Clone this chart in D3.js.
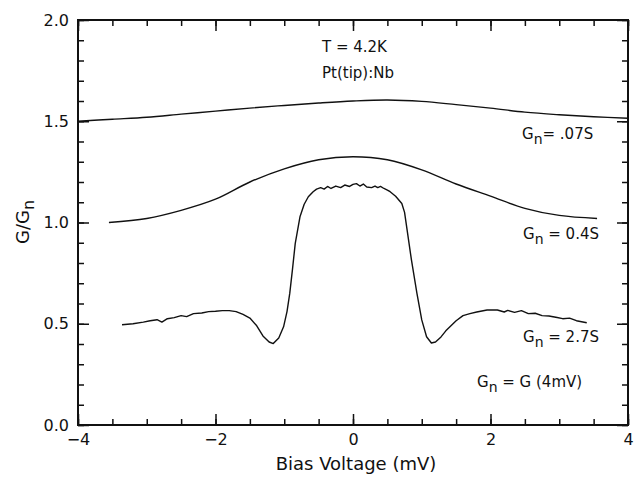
<!DOCTYPE html>
<html>
<head>
<meta charset="utf-8">
<script src="https://cdn.jsdelivr.net/npm/d3@7"></script>
<style>
  body { margin: 0; background: #fff; overflow: hidden; }
  svg { display: block; }
  text { font-family: "DejaVu Sans", sans-serif; fill: #111; }
</style>
</head>
<body>
<div id="chart"></div>
<script>
// curve G_n = .07S
const curveTop = [
  [-4.0, 1.50], [-3.5, 1.51], [-3.0, 1.52], [-2.5, 1.535], [-2.0, 1.55], [-1.5, 1.565],
  [-1.0, 1.578], [-0.5, 1.59], [0.0, 1.60], [0.5, 1.605], [1.0, 1.598], [1.5, 1.582],
  [2.0, 1.565], [2.5, 1.545], [3.0, 1.532], [3.5, 1.522], [4.0, 1.515]
];
// curve G_n = 0.4S
const curveMid = [
  [-3.55, 1.00], [-3.0, 1.02], [-2.5, 1.06], [-2.0, 1.115], [-1.5, 1.20], [-1.0, 1.265],
  [-0.5, 1.31], [0.0, 1.325], [0.5, 1.31], [1.0, 1.26], [1.5, 1.19], [2.0, 1.13],
  [2.5, 1.07], [3.0, 1.035], [3.55, 1.02]
];
// curve G_n = 2.7S
const curveLow = [
  [-3.36, 0.495], [-3.2, 0.50], [-3.05, 0.508], [-2.95, 0.515], [-2.85, 0.52], [-2.78, 0.508],
  [-2.7, 0.525], [-2.6, 0.53], [-2.5, 0.54], [-2.42, 0.535], [-2.32, 0.55], [-2.2, 0.553],
  [-2.1, 0.56], [-2.0, 0.562], [-1.9, 0.565], [-1.8, 0.565], [-1.7, 0.56], [-1.6, 0.546],
  [-1.5, 0.528], [-1.4, 0.49], [-1.31, 0.44], [-1.22, 0.41], [-1.16, 0.402], [-1.08, 0.43],
  [-1.01, 0.485], [-0.96, 0.56], [-0.92, 0.65], [-0.88, 0.77], [-0.84, 0.897], [-0.77, 1.03],
  [-0.71, 1.09], [-0.65, 1.127], [-0.58, 1.152], [-0.53, 1.165], [-0.47, 1.172], [-0.42, 1.165],
  [-0.37, 1.178], [-0.32, 1.168], [-0.25, 1.18], [-0.18, 1.172], [-0.12, 1.185], [-0.05, 1.178],
  [0.0, 1.188], [0.05, 1.192], [0.1, 1.18], [0.15, 1.19], [0.2, 1.175], [0.27, 1.172],
  [0.32, 1.18], [0.36, 1.172], [0.4, 1.178], [0.45, 1.168], [0.5, 1.16], [0.54, 1.152],
  [0.62, 1.13], [0.71, 1.094], [0.75, 1.05], [0.78, 0.98], [0.85, 0.815], [0.93, 0.65],
  [1.0, 0.519], [1.07, 0.436], [1.14, 0.405], [1.2, 0.41], [1.28, 0.435], [1.35, 0.465],
  [1.41, 0.485], [1.5, 0.515], [1.6, 0.54], [1.7, 0.55], [1.8, 0.558], [1.95, 0.568],
  [2.1, 0.568], [2.2, 0.558], [2.25, 0.566], [2.35, 0.556], [2.45, 0.565], [2.55, 0.55],
  [2.65, 0.552], [2.75, 0.54], [2.85, 0.538], [2.95, 0.532], [3.05, 0.525], [3.15, 0.528],
  [3.25, 0.515], [3.4, 0.505]
];

const xMajor = [-4, -2, 0, 2, 4];
const xMinor = d3.range(-4, 4.01, 0.5);
const yMajor = [0, 0.5, 1.0, 1.5, 2.0];
const yMinor = d3.range(0, 2.001, 0.1);

const width = 637, height = 477;
const margin = { top: 20, right: 9, bottom: 52, left: 78 };
const innerWidth = width - margin.left - margin.right;
const innerHeight = height - margin.top - margin.bottom;

const xScale = d3.scaleLinear().domain([-4, 4]).range([0, innerWidth]);
const yScale = d3.scaleLinear().domain([0, 2]).range([innerHeight, 0]);

const svg = d3.select('#chart').append('svg')
  .attr('width', width).attr('height', height);

const mainG = svg.append('g')
  .attr('transform', `translate(${margin.left}, ${margin.top})`);

// ticks on all four sides, pointing inward
const major = 11, minor = 6;
const addAxis = (axis, transform, labels) => {
  const g = mainG.append('g').attr('transform', transform).call(axis);
  g.select('.domain').remove();
  g.selectAll('.tick line').attr('stroke', '#111').attr('stroke-width', 1.5);
  if (!labels) g.selectAll('.tick text').remove();
  return g;
};
addAxis(d3.axisBottom(xScale).tickValues(xMinor).tickSize(-minor), `translate(0, ${innerHeight})`);
addAxis(d3.axisTop(xScale).tickValues(xMinor).tickSize(-minor), 'translate(0, 0)');
addAxis(d3.axisLeft(yScale).tickValues(yMinor).tickSize(-minor), 'translate(0, 0)');
addAxis(d3.axisRight(yScale).tickValues(yMinor).tickSize(-minor), `translate(${innerWidth}, 0)`);
addAxis(d3.axisTop(xScale).tickValues(xMajor).tickSize(-major), 'translate(0, 0)');
addAxis(d3.axisRight(yScale).tickValues(yMajor).tickSize(-major), `translate(${innerWidth}, 0)`);

const xAxisG = addAxis(d3.axisBottom(xScale).tickValues(xMajor).tickSize(-major).tickPadding(9)
  .tickFormat(d3.format('d')), `translate(0, ${innerHeight})`, true);
xAxisG.selectAll('.tick text').style('font-size', '16px').attr('fill', '#111');

const yAxisG = addAxis(d3.axisLeft(yScale).tickValues(yMajor).tickSize(-major).tickPadding(9)
  .tickFormat(d3.format('.1f')), 'translate(0, 0)', true);
yAxisG.selectAll('.tick text').style('font-size', '16px').attr('fill', '#111');

// frame
mainG.append('rect')
  .attr('width', innerWidth).attr('height', innerHeight)
  .attr('fill', 'none').attr('stroke', '#111').attr('stroke-width', 2);

// curves
const lineGen = d3.line()
  .x(d => xScale(d[0]))
  .y(d => yScale(d[1]));

[curveTop, curveMid].forEach(c => {
  mainG.append('path')
    .attr('d', lineGen.curve(d3.curveCatmullRom)(c))
    .attr('fill', 'none').attr('stroke', '#111').attr('stroke-width', 1.4);
});
mainG.append('path')
  .attr('d', lineGen.curve(d3.curveLinear)(curveLow))
  .attr('fill', 'none').attr('stroke', '#111').attr('stroke-width', 1.4)
  .attr('stroke-linejoin', 'round');

// annotations
svg.append('text').text('T = 4.2K')
  .attr('x', 322).attr('y', 52).style('font-size', '15px');
svg.append('text').text('Pt(tip):Nb')
  .attr('x', 322).attr('y', 78).style('font-size', '15px');

const gnLabel = (x, y, rest) => {
  const t = svg.append('text').attr('x', x).attr('y', y).style('font-size', '15px');
  t.append('tspan').text('G');
  t.append('tspan').text('n').attr('dy', 5).style('font-size', '14px');
  t.append('tspan').text(rest).attr('dy', -5);
};
gnLabel(522, 139, '= .07S');
gnLabel(523, 239, ' = 0.4S');
gnLabel(523, 342, ' = 2.7S');
gnLabel(477, 387, ' = G (4mV)');

// axis titles
svg.append('text').text('Bias Voltage (mV)')
  .attr('x', 356).attr('y', 470).attr('text-anchor', 'middle')
  .style('font-size', '18px');

const yLab = svg.append('text')
  .attr('transform', 'translate(29, 222) rotate(-90)')
  .attr('text-anchor', 'middle').style('font-size', '18px');
yLab.append('tspan').text('G/G');
yLab.append('tspan').text('n').attr('dy', 5).style('font-size', '16px');
</script>
</body>
</html>
